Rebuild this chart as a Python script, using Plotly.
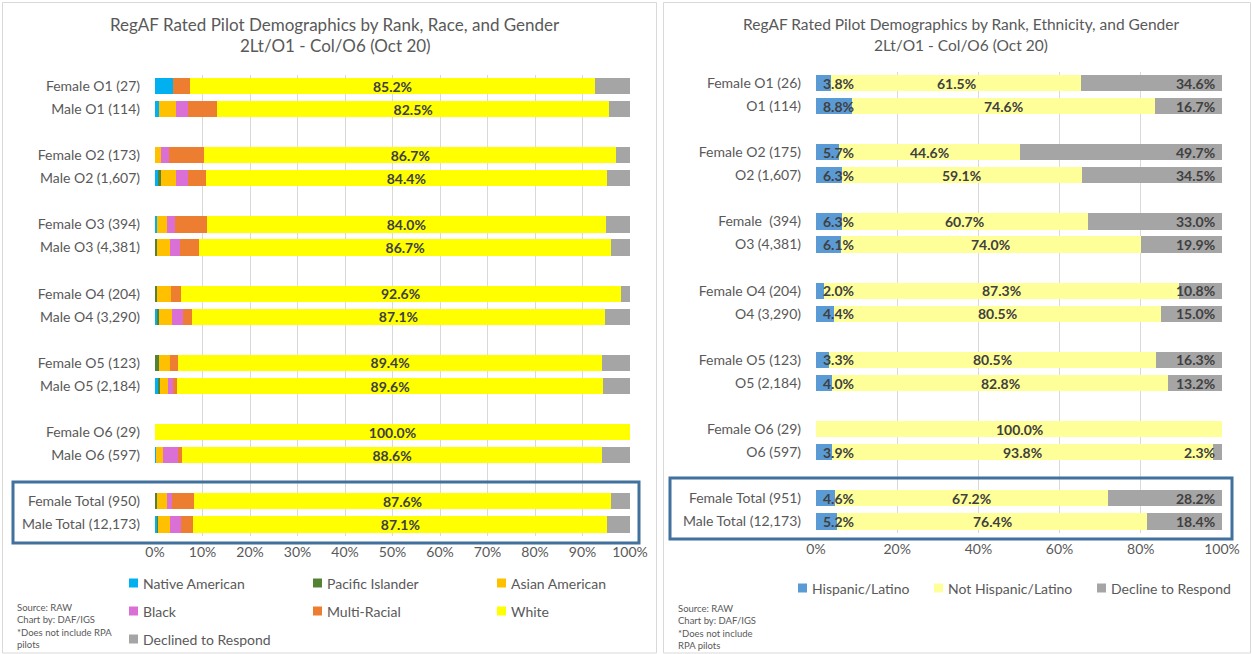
import plotly.graph_objects as go

# ---------------- data: left chart (race) ----------------
race_rows = ["Female O1 (27)", "Male O1 (114)", "Female O2 (173)", "Male O2 (1,607)",
             "Female O3 (394)", "Male O3 (4,381)", "Female O4 (204)", "Male O4 (3,290)",
             "Female O5 (123)", "Male O5 (2,184)", "Female O6 (29)", "Male O6 (597)",
             "Female Total (950)", "Male Total (12,173)"]
native_american = [3.7, 0.9, 0.0, 0.6, 0.5, 0.2, 0.0, 0.6, 0.0, 0.8, 0.0, 0.2, 0.1, 0.5]
pacific_islander = [0.0, 0.0, 0.0, 0.6, 0.0, 0.2, 0.5, 0.2, 0.8, 0.2, 0.0, 0.0, 0.4, 0.2]
asian_american = [0.0, 3.5, 1.2, 3.2, 2.0, 2.7, 2.9, 2.7, 2.4, 1.7, 0.0, 1.5, 2.0, 2.5]
black = [0.0, 2.6, 1.7, 2.5, 1.8, 2.2, 0.0, 2.4, 0.0, 1.0, 0.0, 3.2, 1.0, 2.2]
multi_racial = [3.7, 6.1, 7.5, 3.8, 6.6, 4.0, 2.0, 1.8, 1.6, 1.0, 0.0, 0.7, 4.8, 2.7]
white = [85.2, 82.5, 86.7, 84.4, 84.0, 86.7, 92.6, 87.1, 89.4, 89.6, 100.0, 88.6, 87.6, 87.1]
declined = [7.4, 4.4, 2.9, 4.9, 5.1, 4.0, 2.0, 5.2, 5.7, 5.7, 0.0, 5.8, 4.1, 4.8]

race_series = ["Native American", "Pacific Islander", "Asian American", "Black",
               "Multi-Racial", "White", "Declined to Respond"]
race_colors = ["#00B0F0", "#548235", "#FFC000", "#DA70D6", "#ED7D31", "#FFFF00", "#A5A5A5"]

# ---------------- data: right chart (ethnicity) ----------------
eth_rows = ["Female O1 (26)", "O1 (114)", "Female O2 (175)", "O2 (1,607)",
            "Female\u00a0 (394)", "O3 (4,381)", "Female O4 (204)", "O4 (3,290)",
            "Female O5 (123)", "O5 (2,184)", "Female O6 (29)", "O6 (597)",
            "Female Total (951)", "Male Total (12,173)"]
hispanic = [3.8, 8.8, 5.7, 6.3, 6.3, 6.1, 2.0, 4.4, 3.3, 4.0, 0.0, 3.9, 4.6, 5.2]
not_hispanic = [61.5, 74.6, 44.6, 59.1, 60.7, 74.0, 87.3, 80.5, 80.5, 82.8, 100.0, 93.8, 67.2, 76.4]
decline = [34.6, 16.7, 49.7, 34.5, 33.0, 19.9, 10.8, 15.0, 16.3, 13.2, 0.0, 2.3, 28.2, 18.4]

eth_series = ["Hispanic/Latino", "Not Hispanic/Latino", "Decline to Respond"]
eth_colors = ["#5B9BD5", "#FFFF99", "#A5A5A5"]

left_ticks = ["0%", "10%", "20%", "30%", "40%", "50%", "60%", "70%", "80%", "90%", "100%"]
right_ticks = ["0%", "20%", "40%", "60%", "80%", "100%"]

# ---------------- layout helpers ----------------
W, H = 1252, 654
FONT = "Lato"
GREY = "#595959"
LBL = "#404040"


def px(x):
    return x / W


def py(y):
    return 1 - y / H


# rows grouped in pairs with an empty slot between groups
pos = [i + i // 2 for i in range(len(race_rows))]

fig = go.Figure()

race_values = [native_american, pacific_islander, asian_american, black,
               multi_racial, white, declined]
for name, vals, col in zip(race_series, race_values, race_colors):
    is_white = name == "White"
    fig.add_trace(go.Bar(
        y=pos, x=vals, name=name, orientation="h", marker=dict(color=col, line=dict(width=0)),
        width=0.7, xaxis="x", yaxis="y", showlegend=False,
        text=[f"{v:.1f}%" for v in vals] if is_white else None,
        textposition="inside" if is_white else "none",
        insidetextanchor="middle", textangle=0, constraintext="none",
        textfont=dict(family=FONT, size=14, color=LBL, weight="bold"),
        hoverinfo="skip",
    ))

eth_values = [hispanic, not_hispanic, decline]
for name, vals, col in zip(eth_series, eth_values, eth_colors):
    fig.add_trace(go.Bar(
        y=pos, x=vals, name=name, orientation="h", marker=dict(color=col, line=dict(width=0)),
        width=0.7, xaxis="x2", yaxis="y2", showlegend=False, hoverinfo="skip",
    ))

annotations = []
# right chart value labels
for p, h, n, d in zip(pos, hispanic, not_hispanic, decline):
    lab = dict(font=dict(family=FONT, size=14, color=LBL), showarrow=False,
               xref="x2", yref="y2", y=p, yanchor="middle")
    if h > 0:
        annotations.append(dict(lab, x=0, text=f"<b>{h:.1f}%</b>", xanchor="left", xshift=5))
    if n > 0:
        annotations.append(dict(lab, x=h + n / 2, text=f"<b>{n:.1f}%</b>", xanchor="center"))
    if d > 0:
        annotations.append(dict(lab, x=100, text=f"<b>{d:.1f}%</b>", xanchor="right", xshift=-5))

# titles
for cx, line1, size in [(335, "RegAF Rated Pilot Demographics by Rank, Race, and Gender", 17),
                        (961, "RegAF Rated Pilot Demographics by Rank, Ethnicity, and Gender", 15.5)]:
    annotations.append(dict(x=px(cx), y=py(24), xref="paper", yref="paper", text=line1,
                            showarrow=False, xanchor="center", yanchor="middle",
                            font=dict(family=FONT, size=size, color=GREY)))
    annotations.append(dict(x=px(cx), y=py(45), xref="paper", yref="paper",
                            text="2Lt/O1 - Col/O6 (Oct 20)",
                            showarrow=False, xanchor="center", yanchor="middle",
                            font=dict(family=FONT, size=size, color=GREY)))

shapes = []
# legends (left: 3 columns, right: one row)
left_leg_x = [129, 313, 497]
left_leg_y = [583, 611, 639]
for i, (name, col) in enumerate(zip(race_series, race_colors)):
    lx = left_leg_x[i % 3]
    ly = left_leg_y[i // 3]
    shapes.append(dict(type="rect", xref="paper", yref="paper", x0=px(lx), x1=px(lx + 9),
                       y0=py(ly + 4.5), y1=py(ly - 4.5), fillcolor=col, line=dict(width=0)))
    annotations.append(dict(x=px(lx + 12), y=py(ly), xref="paper", yref="paper", text=name,
                            showarrow=False, xanchor="left", yanchor="middle",
                            font=dict(family=FONT, size=14, color=GREY)))

right_leg_x = [798, 934, 1097]
for name, col, lx in zip(eth_series, eth_colors, right_leg_x):
    ly = 588
    shapes.append(dict(type="rect", xref="paper", yref="paper", x0=px(lx), x1=px(lx + 9),
                       y0=py(ly + 4.5), y1=py(ly - 4.5), fillcolor=col, line=dict(width=0)))
    annotations.append(dict(x=px(lx + 12), y=py(ly), xref="paper", yref="paper", text=name,
                            showarrow=False, xanchor="left", yanchor="middle",
                            font=dict(family=FONT, size=14, color=GREY)))

# footnotes
annotations.append(dict(x=px(15), y=py(600), xref="paper", yref="paper",
                        text="Source: RAW<br>Chart by: DAF/IGS<br>*Does not include RPA<br>pilots",
                        showarrow=False, xanchor="left", yanchor="top", align="left",
                        font=dict(family=FONT, size=9.5, color=GREY)))
annotations.append(dict(x=px(676), y=py(601), xref="paper", yref="paper",
                        text="Source: RAW<br>Chart by: DAF/IGS<br>*Does not include<br>RPA pilots",
                        showarrow=False, xanchor="left", yanchor="top", align="left",
                        font=dict(family=FONT, size=9.5, color=GREY)))

# panel borders
shapes.append(dict(type="rect", xref="paper", yref="paper", x0=px(2.5), x1=px(656.5),
                   y0=py(653), y1=py(2.5), line=dict(color="#D9D9D9", width=1), layer="below"))
shapes.append(dict(type="rect", xref="paper", yref="paper", x0=px(663.5), x1=px(1250.5),
                   y0=py(653), y1=py(2.5), line=dict(color="#D9D9D9", width=1), layer="below"))
# highlight boxes around totals
shapes.append(dict(type="rect", xref="paper", yref="paper", x0=px(13), x1=px(639),
                   y0=py(543), y1=py(482), line=dict(color="#41719C", width=3)))
shapes.append(dict(type="rect", xref="paper", yref="paper", x0=px(670), x1=px(1232),
                   y0=py(539), y1=py(478), line=dict(color="#41719C", width=3)))

axis_font = dict(family=FONT, size=14, color=GREY)
common_x = dict(range=[0, 100], showgrid=True, gridcolor="#D9D9D9", gridwidth=1,
                zeroline=False, showline=False, ticks="", tickfont=axis_font,
                ticklabelstandoff=6, fixedrange=True, automargin=False)
common_y = dict(range=[19.5, -0.5], showgrid=False, zeroline=False, showline=False, ticks="",
                tickfont=axis_font, ticklabelstandoff=14, fixedrange=True, automargin=False)
fig.update_layout(
    width=W, height=H, autosize=False, margin=dict(l=0, r=0, t=0, b=0, pad=0),
    paper_bgcolor="white", plot_bgcolor="white",
    barmode="stack", bargap=0.3,
    font=dict(family=FONT, color=GREY),
    xaxis=dict(common_x, domain=[px(155), px(630)], tickvals=[i * 10 for i in range(11)],
               ticktext=left_ticks, anchor="y"),
    yaxis=dict(common_y, domain=[py(536), py(74.5)], tickvals=pos, ticktext=race_rows,
               anchor="x"),
    xaxis2=dict(common_x, domain=[px(816), px(1222)], tickvals=[i * 20 for i in range(6)],
                ticktext=right_ticks, anchor="y2"),
    yaxis2=dict(common_y, domain=[py(533), py(71.5)], tickvals=pos, ticktext=eth_rows,
                anchor="x2"),
    annotations=annotations, shapes=shapes,
)

fig.write_html(
    "out.html",
    config={"responsive": False, "displayModeBar": False},
    post_script="document.body.style.margin='0px';document.body.style.overflow='hidden';",
)
